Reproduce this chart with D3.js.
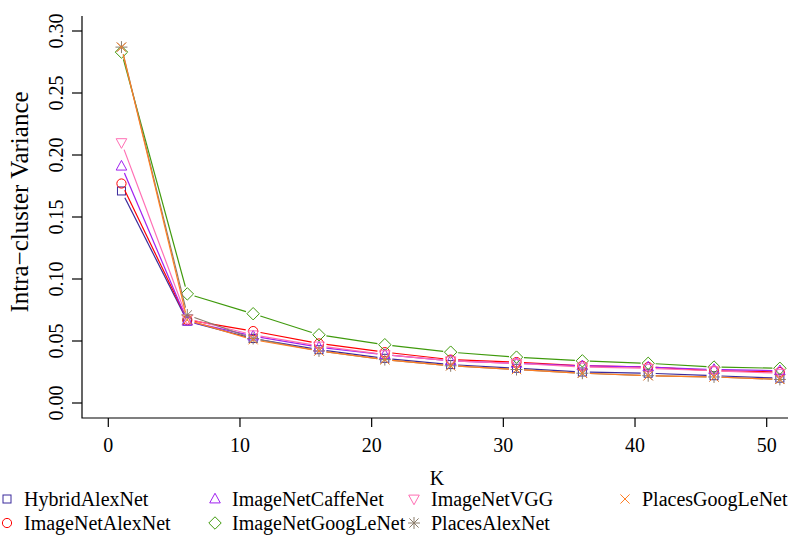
<!DOCTYPE html>
<html><head><meta charset="utf-8">
<script src="https://cdn.jsdelivr.net/npm/d3@7"></script>
<style>body{margin:0;background:#fff}svg{display:block}</style>
</head><body><svg id="c" width="788" height="536"></svg>
<script>
const K = [1, 6, 11, 16, 21, 26, 31, 36, 41, 46, 51];
const seriesNames = ["HybridAlexNet","ImageNetAlexNet","ImageNetCaffeNet","ImageNetGoogLeNet","ImageNetVGG","PlacesAlexNet","PlacesGoogLeNet"];
const HybridAlexNet     = [0.171, 0.066, 0.052, 0.043, 0.036, 0.031, 0.028, 0.025, 0.024, 0.022, 0.020];
const ImageNetAlexNet   = [0.177, 0.067, 0.058, 0.048, 0.041, 0.035, 0.033, 0.030, 0.029, 0.026, 0.025];
const ImageNetCaffeNet  = [0.191, 0.066, 0.054, 0.045, 0.039, 0.034, 0.032, 0.030, 0.029, 0.027, 0.026];
const ImageNetGoogLeNet = [0.283, 0.088, 0.072, 0.055, 0.047, 0.041, 0.037, 0.034, 0.032, 0.029, 0.028];
const ImageNetVGG       = [0.210, 0.068, 0.055, 0.046, 0.039, 0.034, 0.032, 0.029, 0.028, 0.026, 0.024];
const PlacesAlexNet     = [0.287, 0.071, 0.052, 0.042, 0.035, 0.030, 0.027, 0.024, 0.022, 0.021, 0.019];
const PlacesGoogLeNet   = [0.287, 0.067, 0.051, 0.042, 0.035, 0.030, 0.027, 0.024, 0.022, 0.021, 0.019];
const xTicks = [0, 10, 20, 30, 40, 50];
const yTicks = [0.00, 0.05, 0.10, 0.15, 0.20, 0.25, 0.30];

const values = [HybridAlexNet, ImageNetAlexNet, ImageNetCaffeNet, ImageNetGoogLeNet, ImageNetVGG, PlacesAlexNet, PlacesGoogLeNet];
const colors = ["#3b2a9c","#ff0000","#a020f0","#3f9a0c","#ff6eb4","#8b7d6b","#ff7f24"];
const shapes = ["square","circle","triangle","diamond","itriangle","asterisk","cross"];
const FONT = "'Liberation Serif', 'Times New Roman', Times, serif";

const svg = d3.select("#c");
const x = d3.scaleLinear().domain([0, 50]).range([108.3, 766.7]);
const y = d3.scaleLinear().domain([0, 0.30]).range([403, 31]);
const axLeft = 82, axBottom = 418, axTop = 16;

function symbol(g, shape, cx, cy, color) {
  const s = g.append("g").attr("transform", `translate(${cx},${cy})`)
    .attr("fill","none").attr("stroke",color).attr("stroke-width",1);
  const r = 4.6;
  if (shape === "square") s.append("rect").attr("x",-r+0.6).attr("y",-r+0.6).attr("width",2*r-1.2).attr("height",2*r-1.2);
  else if (shape === "circle") s.append("circle").attr("r", r);
  else if (shape === "triangle") s.append("path").attr("d", `M0,${-r*1.25}L${r*1.15},${r*0.85}L${-r*1.15},${r*0.85}Z`);
  else if (shape === "itriangle") s.append("path").attr("d", `M0,${r*1.25}L${r*1.15},${-r*0.85}L${-r*1.15},${-r*0.85}Z`);
  else if (shape === "diamond") s.append("path").attr("d", `M0,${-r*1.35}L${r*1.35},0L0,${r*1.35}L${-r*1.35},0Z`);
  else if (shape === "cross") s.append("path").attr("d", `M${-r},${-r}L${r},${r}M${-r},${r}L${r},${-r}`);
  else if (shape === "asterisk") s.append("path").attr("d", `M${-r},${-r}L${r},${r}M${-r},${r}L${r},${-r}M0,${-r*1.3}L0,${r*1.3}M${-r*1.3},0L${r*1.3},0`);
}

// series (type = "b": lines with gaps around points)
const gap = 7.5;
values.forEach((vals, si) => {
  const g = svg.append("g");
  for (let i = 0; i < K.length - 1; i++) {
    const x1 = x(K[i]), y1 = y(vals[i]), x2 = x(K[i+1]), y2 = y(vals[i+1]);
    const dx = x2 - x1, dy = y2 - y1, len = Math.hypot(dx, dy);
    if (len <= 2 * gap) continue;
    const ux = dx / len, uy = dy / len;
    g.append("line").attr("x1", x1 + ux*gap).attr("y1", y1 + uy*gap)
      .attr("x2", x2 - ux*gap).attr("y2", y2 - uy*gap)
      .attr("stroke", colors[si]).attr("stroke-width", 1.2);
  }
  K.forEach((k, i) => symbol(g, shapes[si], x(k), y(vals[i]), colors[si]));
});

// axes
const ax = svg.append("g").attr("stroke","#000").attr("stroke-width",1.2).attr("fill","none");
ax.append("path").attr("d", `M${axLeft},${axTop}L${axLeft},${axBottom}L788,${axBottom}`);
yTicks.forEach(t => ax.append("line").attr("x1", axLeft-10).attr("x2", axLeft).attr("y1", y(t)).attr("y2", y(t)));
xTicks.forEach(t => ax.append("line").attr("x1", x(t)).attr("x2", x(t)).attr("y1", axBottom).attr("y2", axBottom+9));

const txt = (sel, size) => sel.attr("font-family", FONT).attr("font-size", size || 20).attr("fill", "#000");

svg.append("g").selectAll("text").data(yTicks).join("text")
  .attr("transform", d => `translate(63,${y(d)}) rotate(-90)`)
  .attr("text-anchor","middle").call(txt)
  .text(d => d3.format(".2f")(d));
svg.append("g").selectAll("text").data(xTicks).join("text")
  .attr("x", d => x(d)).attr("y", 452).attr("text-anchor","middle").call(txt)
  .text(d => d);

svg.append("text").attr("transform","translate(28,202) rotate(-90)").attr("text-anchor","middle")
  .call(txt, 25).text("Intra\u2212cluster Variance");
svg.append("text").attr("x",437).attr("y",485).attr("text-anchor","middle").call(txt, 20).text("K");

// legend (column-major, 2 rows)
const legX = [7, 215, 414, 625], legY = [499, 523];
seriesNames.forEach((name, i) => {
  const col = Math.floor(i / 2), row = i % 2;
  const g = svg.append("g");
  symbol(g, shapes[i], legX[col], legY[row], colors[i]);
  g.append("text").attr("x", legX[col] + 17).attr("y", legY[row] + 7).call(txt).text(name);
});
</script></body></html>
